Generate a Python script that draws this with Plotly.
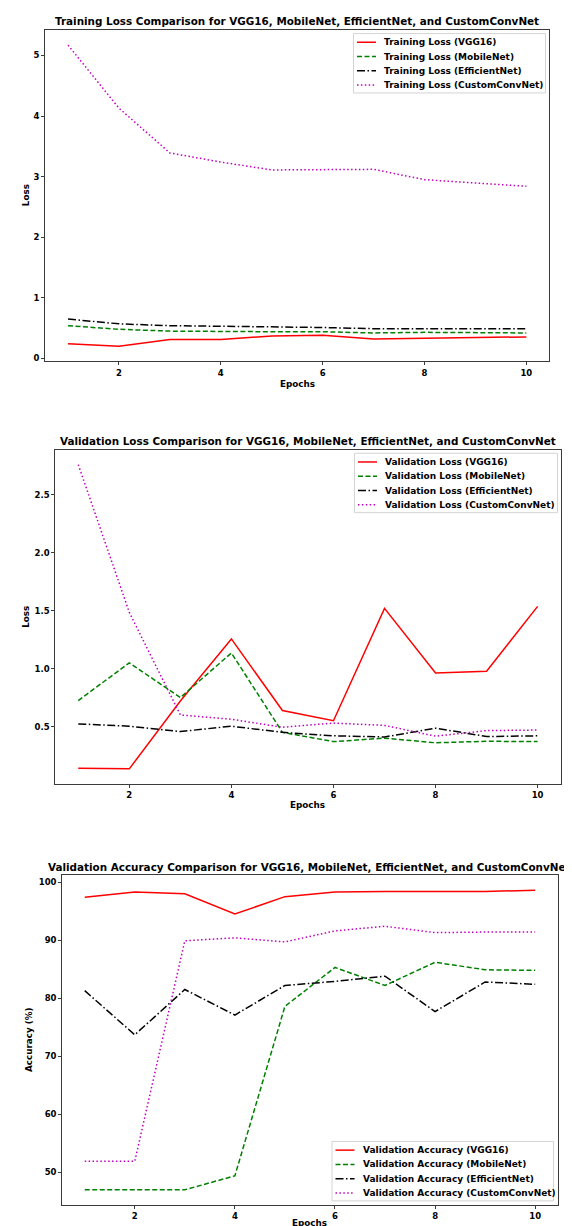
import plotly.graph_objects as go

epochs = [1, 2, 3, 4, 5, 6, 7, 8, 9, 10]
models = ["VGG16", "MobileNet", "EfficientNet", "CustomConvNet"]

train_loss_vgg16 = [0.24, 0.20, 0.31, 0.31, 0.37, 0.38, 0.32, 0.33, 0.34, 0.355]
train_loss_mobilenet = [0.54, 0.48, 0.45, 0.44, 0.44, 0.44, 0.42, 0.43, 0.43, 0.42]
train_loss_efficientnet = [0.65, 0.57, 0.54, 0.53, 0.525, 0.51, 0.49, 0.49, 0.48, 0.49]
train_loss_custom = [5.17, 4.13, 3.39, 3.24, 3.11, 3.11, 3.12, 2.95, 2.90, 2.84]

val_loss_vgg16 = [0.14, 0.135, 0.72, 1.256, 0.638, 0.55, 1.52, 0.963, 0.977, 1.537]
val_loss_mobilenet = [0.724, 1.05, 0.75, 1.135, 0.45, 0.37, 0.40, 0.36, 0.373, 0.37]
val_loss_efficientnet = [0.523, 0.503, 0.457, 0.503, 0.45, 0.42, 0.41, 0.486, 0.414, 0.42]
val_loss_custom = [2.76, 1.485, 0.60, 0.563, 0.494, 0.53, 0.51, 0.417, 0.465, 0.47]

val_acc_vgg16 = [97.4, 98.3, 98.0, 94.5, 97.5, 98.3, 98.4, 98.45, 98.4, 98.6]
val_acc_mobilenet = [47.0, 47.0, 47.0, 49.4, 78.6, 85.3, 82.2, 86.2, 84.9, 84.8]
val_acc_efficientnet = [81.3, 73.7, 81.5, 77.1, 82.2, 82.9, 83.8, 77.7, 82.8, 82.4]
val_acc_custom = [51.9, 51.9, 89.9, 90.4, 89.7, 91.6, 92.4, 91.3, 91.4, 91.4]

W, H = 572, 1226
FONT = "DejaVu Sans"

styles = {
    "VGG16": dict(color="#ff0000", dash="solid"),
    "MobileNet": dict(color="#008000", dash="5px,2.5px"),
    "EfficientNet": dict(color="#000000", dash="8px,2.5px,1.5px,2.5px"),
    "CustomConvNet": dict(color="#bf00bf", dash="1.5px,2.4px"),
}

panels = [
    dict(prefix="Training Loss", series=[train_loss_vgg16, train_loss_mobilenet, train_loss_efficientnet, train_loss_custom],
         title="Training Loss Comparison for VGG16, MobileNet, EfficientNet, and CustomConvNet",
         ylabel="Loss", box=(37.1, 541.3, 22, 354), yrange=[-0.05, 5.42], ytickvals=[0, 1, 2, 3, 4, 5], yfmt="d",
         legend_box=(345.5, 537.5, 25.6), title_y=12.7, xlabel_y=376.5, ylabel_x=17.5),
    dict(prefix="Validation Loss", series=[val_loss_vgg16, val_loss_mobilenet, val_loss_efficientnet, val_loss_custom],
         title="Validation Loss Comparison for VGG16, MobileNet, EfficientNet, and CustomConvNet",
         ylabel="Loss", box=(47.3, 552.6, 442.3, 777.3), yrange=[0.004, 2.89], ytickvals=[0.5, 1.0, 1.5, 2.0, 2.5], yfmt=".1f",
         legend_box=(346.5, 549.5, 446), title_y=434, xlabel_y=798.5, ylabel_x=18),
    dict(prefix="Validation Accuracy", series=[val_acc_vgg16, val_acc_mobilenet, val_acc_efficientnet, val_acc_custom],
         title="Validation Accuracy Comparison for VGG16, MobileNet, EfficientNet, and CustomConvNet",
         ylabel="Accuracy (%)", box=(54.2, 549.7, 868.7, 1198.7), yrange=[44.42, 101.18], ytickvals=[50, 60, 70, 80, 90, 100], yfmt="d",
         legend_box=(324, 545.5, 1135.3), title_y=860.7, xlabel_y=1216.5, ylabel_x=21),
]

fig = go.Figure()
annotations = []
shapes = []
layout = dict(
    width=W, height=H, autosize=False, showlegend=False,
    margin=dict(l=0, r=0, t=0, b=0, pad=0),
    paper_bgcolor="white", plot_bgcolor="white",
    font=dict(family=FONT, size=8.5, color="black", weight="bold"),
)


def px(x):
    return x / W


def py(y):
    return 1 - y / H


for i, p in enumerate(panels):
    n = "" if i == 0 else str(i + 1)
    xa, ya = "x" + n, "y" + n
    for name, ys in zip(models, p["series"]):
        st = styles[name]
        fig.add_trace(go.Scatter(
            x=epochs, y=ys, mode="lines", name=f"{p['prefix']} ({name})",
            line=dict(color=st["color"], dash=st["dash"], width=1.5),
            xaxis=xa, yaxis=ya,
        ))
    x0, x1, y0, y1 = p["box"]
    axstyle = dict(showline=True, linecolor="#3a3a3a", linewidth=1, mirror=True,
                   ticks="outside", ticklen=3, tickwidth=1, tickcolor="#3a3a3a",
                   showgrid=False, zeroline=False,
                   tickfont=dict(family=FONT, size=8.5, color="black", weight="bold"))
    layout["xaxis" + n] = dict(domain=[px(x0), px(x1)], range=[0.55, 10.45], anchor=ya,
                               tickvals=[2, 4, 6, 8, 10], **axstyle)
    layout["yaxis" + n] = dict(domain=[py(y1), py(y0)], range=p["yrange"], anchor=xa,
                               tickvals=p["ytickvals"], tickformat=p["yfmt"], **axstyle)

    # legend (drawn manually to match matplotlib's compact layout)
    lx0, lx1, ltop = p["legend_box"]
    lbot = ltop + 59.5
    shapes.append(dict(type="rect", xref="paper", yref="paper", layer="above",
                       x0=px(lx0), x1=px(lx1), y0=py(lbot), y1=py(ltop),
                       fillcolor="rgba(255,255,255,0.8)", line=dict(color="#d4d4d4", width=1)))
    for k, name in enumerate(models):
        st = styles[name]
        ry = ltop + 8.7 + k * 14.3
        shapes.append(dict(type="line", xref="paper", yref="paper", layer="above",
                           x0=px(lx0 + 3.5), x1=px(lx0 + 22.5), y0=py(ry), y1=py(ry),
                           line=dict(color=st["color"], dash=st["dash"], width=1.5)))
        annotations.append(dict(text=f"{p['prefix']} ({name})", x=px(lx0 + 28.8), y=py(ry),
                                xref="paper", yref="paper", xanchor="left", yanchor="middle",
                                showarrow=False,
                                font=dict(family=FONT, size=9, color="black", weight="bold")))

    annotations.append(dict(text=p["title"], x=px((x0 + x1) / 2), y=py(p["title_y"]),
                            xref="paper", yref="paper", xanchor="center", yanchor="middle", showarrow=False,
                            font=dict(family=FONT, size=10.4, color="black", weight="bold")))
    annotations.append(dict(text="Epochs", x=px((x0 + x1) / 2), y=py(p["xlabel_y"]),
                            xref="paper", yref="paper", xanchor="center", yanchor="middle", showarrow=False,
                            borderpad=0,
                            font=dict(family=FONT, size=8.8, color="black", weight="bold")))
    annotations.append(dict(text=p["ylabel"], x=px(p["ylabel_x"]), y=py((y0 + y1) / 2),
                            xref="paper", yref="paper", xanchor="center", yanchor="middle", showarrow=False,
                            textangle=-90,
                            font=dict(family=FONT, size=8.8, color="black", weight="bold")))

layout["annotations"] = annotations
layout["shapes"] = shapes
fig.update_layout(**layout)
fig.write_html("out.html")
